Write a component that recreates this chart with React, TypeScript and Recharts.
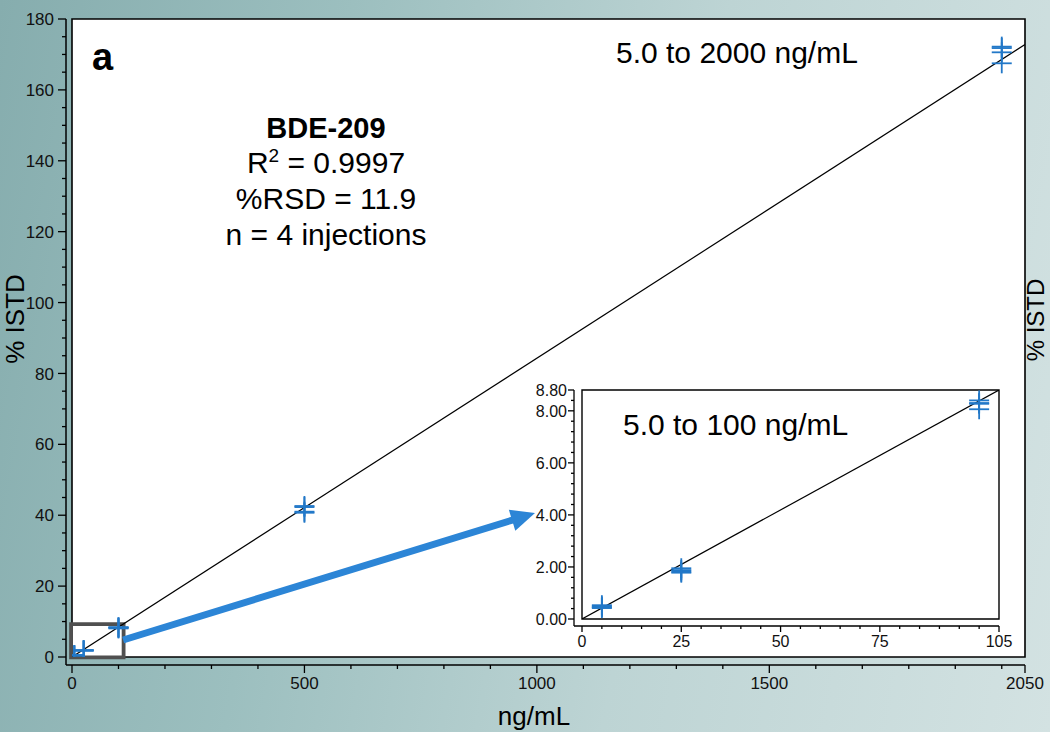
import React from 'react';
import { ScatterChart, Scatter, XAxis, YAxis, ReferenceArea, ReferenceLine } from 'recharts';

// ---------- data ----------
const CONCENTRATIONS = [5, 25, 100, 500, 2000]; // ng/mL
const INJECTION_1 = [0.53, 1.95, 8.4, 42.6, 172.2];
const INJECTION_2 = [0.48, 1.88, 8.3, 42.3, 171.8];
const INJECTION_3 = [0.45, 1.82, 8.27, 41.0, 170.6];
const INJECTION_4 = [0.42, 1.78, 8.06, 40.7, 167.5];
const FIT_SLOPE = 0.0843;
const FIT_INTERCEPT = 0;

const MAIN_X_DOMAIN = [0, 2050];
const MAIN_Y_DOMAIN = [0, 180];
const MAIN_X_LABELS = [0, 500, 1000, 1500, 2050];
const MAIN_Y_LABELS = [0, 20, 40, 60, 80, 100, 120, 140, 160, 180];
const MAIN_X_TICKS = [0, 100, 200, 300, 400, 500, 600, 700, 800, 900, 1000, 1100, 1200, 1300, 1400, 1500, 1600, 1700, 1800, 1900, 2000, 2050];
const MAIN_Y_TICKS = [0, 5, 10, 15, 20, 25, 30, 35, 40, 45, 50, 55, 60, 65, 70, 75, 80, 85, 90, 95, 100, 105, 110, 115, 120, 125, 130, 135, 140, 145, 150, 155, 160, 165, 170, 175, 180];

const INSET_MAX_CONC = 100;
const INSET_X_DOMAIN = [0, 105];
const INSET_Y_DOMAIN = [0, 8.8];
const INSET_X_LABELS = [0, 25, 50, 75, 105];
const INSET_Y_LABELS = [0, 2, 4, 6, 8, 8.8];
const INSET_X_TICKS = [0, 5, 10, 15, 20, 25, 30, 35, 40, 45, 50, 55, 60, 65, 70, 75, 80, 85, 90, 95, 100, 105];
const INSET_Y_TICKS = [0, 0.4, 0.8, 1.2, 1.6, 2, 2.4, 2.8, 3.2, 3.6, 4, 4.4, 4.8, 5.2, 5.6, 6, 6.4, 6.8, 7.2, 7.6, 8, 8.4, 8.8];

// zoom box and arrow (data coordinates of the main chart)
const ZOOM_BOX = { x1: -2, x2: 111, y1: -0.1, y2: 9.3 };
const ARROW = [{ x: 110, y: 4.8 }, { x: 996, y: 40.6 }];

const TITLE_MAIN = '5.0 to 2000 ng/mL';
const TITLE_INSET = '5.0 to 100 ng/mL';

// ---------- derived ----------
const INJECTIONS = [INJECTION_1, INJECTION_2, INJECTION_3, INJECTION_4];
const mainPoints = CONCENTRATIONS.flatMap((c, i) => INJECTIONS.map((inj) => ({ x: c, y: inj[i] })));
const insetPoints = mainPoints.filter((p) => p.x <= INSET_MAX_CONC);
const fitMain = [MAIN_X_DOMAIN[0], MAIN_X_DOMAIN[1]].map((x) => ({ x, y: FIT_INTERCEPT + FIT_SLOPE * x }));
const fitInset = [INSET_X_DOMAIN[0], INSET_X_DOMAIN[1]].map((x) => ({ x, y: Math.min(INSET_Y_DOMAIN[1], FIT_INTERCEPT + FIT_SLOPE * x) }));

const FONT = "'Liberation Sans', Arial, sans-serif";
const BLUE = '#2278c8';
const ARROW_BLUE = '#2c85d6';
const TEXT = '#111';

const isIn = (v: number, arr: number[]) => arr.some((a) => Math.abs(a - v) < 1e-6);

const makeCross = (half: number, w: number) => (props: any) => {
  const { cx, cy } = props;
  if (cx == null || cy == null) return <g />;
  return (
    <g>
      <line x1={cx - half} x2={cx + half} y1={cy} y2={cy} stroke={BLUE} strokeWidth={w} />
      <line x1={cx} x2={cx} y1={cy - half} y2={cy + half} stroke={BLUE} strokeWidth={w} />
    </g>
  );
};

const makeYTick = (labels: number[], fmt: (v: number) => string, major: number, minor: number, gap: number, fs: number) => (props: any) => {
  const { x, y, payload } = props;
  const v = payload.value;
  const isMajor = isIn(v, labels);
  return (
    <g>
      <line x1={x} x2={x - (isMajor ? major : minor)} y1={y} y2={y} stroke="#000" strokeWidth={1.3} />
      {isMajor && (
        <text x={x - major - gap} y={y} dy="0.36em" textAnchor="end" fontFamily={FONT} fontSize={fs} fill={TEXT}>
          {fmt(v)}
        </text>
      )}
    </g>
  );
};

const makeXTick = (labels: number[], major: number, minor: number, gap: number, fs: number) => (props: any) => {
  const { x, y, payload } = props;
  const v = payload.value;
  const isMajor = isIn(v, labels);
  return (
    <g>
      <line x1={x} x2={x} y1={y} y2={y + (isMajor ? major : minor)} stroke="#000" strokeWidth={1.3} />
      {isMajor && (
        <text x={x} y={y + major + gap} dy="0.72em" textAnchor="middle" fontFamily={FONT} fontSize={fs} fill={TEXT}>
          {String(v)}
        </text>
      )}
    </g>
  );
};

const ArrowShape = (props: any) => {
  const { x1, y1, x2, y2 } = props;
  if ([x1, y1, x2, y2].some((v) => v == null || isNaN(v))) return <g />;
  const dx = x2 - x1;
  const dy = y2 - y1;
  const len = Math.sqrt(dx * dx + dy * dy);
  const ux = dx / len;
  const uy = dy / len;
  const headLen = 24;
  const headHalf = 11;
  const bx = x2 - ux * headLen;
  const by = y2 - uy * headLen;
  const px = -uy;
  const py = ux;
  return (
    <g>
      <line x1={x1} y1={y1} x2={bx + ux * 2} y2={by + uy * 2} stroke={ARROW_BLUE} strokeWidth={7} />
      <polygon
        points={`${x2},${y2} ${bx + px * headHalf},${by + py * headHalf} ${bx - px * headHalf},${by - py * headHalf}`}
        fill={ARROW_BLUE}
      />
    </g>
  );
};

const MainYTick = makeYTick(MAIN_Y_LABELS, (v) => String(v), 8, 4, 4, 17);
const MainXTick = makeXTick(MAIN_X_LABELS, 8, 4, 4, 17);
const InsetYTick = makeYTick(INSET_Y_LABELS, (v) => v.toFixed(2), 6, 3, 1, 16);
const InsetXTick = makeXTick(INSET_X_LABELS, 6, 3, 3, 16);

export default function App() {
  return (
    <div
      style={{
        position: 'absolute',
        left: 0,
        top: 0,
        width: 1050,
        height: 732,
        overflow: 'hidden',
        background: 'linear-gradient(100deg, #86adae 0%, #9cbfbf 30%, #bdd4d4 62%, #d3e2e2 100%)',
      }}
    >
      <div style={{ position: 'absolute', left: 0, top: 0 }}>
        <ScatterChart width={1050} height={732} margin={{ top: 19, right: 25, bottom: 37, left: 6 }}>
          <XAxis
            type="number"
            dataKey="x"
            domain={MAIN_X_DOMAIN}
            ticks={MAIN_X_TICKS}
            interval={0}
            padding={{ left: 6, right: 0 }}
            height={30}
            tickSize={0}
            tickMargin={0}
            tickLine={false}
            axisLine={{ stroke: '#000', strokeWidth: 1.5 }}
            tick={MainXTick}
            allowDataOverflow
          />
          <YAxis
            type="number"
            dataKey="y"
            domain={MAIN_Y_DOMAIN}
            ticks={MAIN_Y_TICKS}
            interval={0}
            padding={{ top: 0, bottom: 8 }}
            width={60}
            tickSize={0}
            tickMargin={0}
            tickLine={false}
            axisLine={{ stroke: '#000', strokeWidth: 1.5 }}
            tick={MainYTick}
            allowDataOverflow
          />
          <ReferenceArea
            x1={MAIN_X_DOMAIN[0]}
            x2={MAIN_X_DOMAIN[1]}
            y1={MAIN_Y_DOMAIN[0]}
            y2={MAIN_Y_DOMAIN[1]}
            fill="#ffffff"
            fillOpacity={1}
            stroke="#000"
            strokeWidth={1.6}
            ifOverflow="visible"
          />
          <Scatter
            data={fitMain}
            line={{ stroke: '#000', strokeWidth: 1.2 }}
            shape={() => <g />}
            isAnimationActive={false}
          />
          <ReferenceArea
            x1={ZOOM_BOX.x1}
            x2={ZOOM_BOX.x2}
            y1={ZOOM_BOX.y1}
            y2={ZOOM_BOX.y2}
            fill="none"
            fillOpacity={0}
            stroke="#505050"
            strokeWidth={3.8}
            ifOverflow="visible"
          />
          <Scatter data={mainPoints} shape={makeCross(10, 1.8)} isAnimationActive={false} />
          <ReferenceLine segment={ARROW} ifOverflow="visible" shape={ArrowShape} />
        </ScatterChart>
      </div>

      <svg width={1050} height={732} style={{ position: 'absolute', left: 0, top: 0, pointerEvents: 'none' }}>
        <text x={92} y={70} fontFamily={FONT} fontWeight="bold" fontSize={38} fill="#000">a</text>
        <text x={616} y={63} fontFamily={FONT} fontSize={30} fill="#000">{TITLE_MAIN}</text>
        <g fontFamily={FONT} fill="#000" textAnchor="middle">
          <text x={326} y={138} fontSize={29} fontWeight="bold">BDE-209</text>
          <text x={326} y={173} fontSize={30}>
            R<tspan dy={-11} fontSize={19}>2</tspan>
            <tspan dy={11}> = 0.9997</tspan>
          </text>
          <text x={326} y={209} fontSize={30}>%RSD = 11.9</text>
          <text x={326} y={245} fontSize={30}>n = 4 injections</text>
        </g>
        <text x={24} y={319} transform="rotate(-90 24 319)" textAnchor="middle" fontFamily={FONT} fontSize={26} fill="#000">% ISTD</text>
        <text x={1044} y={320} transform="rotate(-90 1044 320)" textAnchor="middle" fontFamily={FONT} fontSize={24} fill="#000">% ISTD</text>
        <text x={534} y={725} textAnchor="middle" fontFamily={FONT} fontSize={26} fill="#000">ng/mL</text>
      </svg>

      <div style={{ position: 'absolute', left: 520, top: 370 }}>
        <ScatterChart width={520} height={300} margin={{ top: 20, right: 41, bottom: 19, left: 4 }}>
          <XAxis
            type="number"
            dataKey="x"
            domain={INSET_X_DOMAIN}
            ticks={INSET_X_TICKS}
            interval={0}
            padding={{ left: 8, right: 0 }}
            height={25}
            tickSize={0}
            tickMargin={0}
            tickLine={false}
            axisLine={{ stroke: '#000', strokeWidth: 1.3 }}
            tick={InsetXTick}
            allowDataOverflow
          />
          <YAxis
            type="number"
            dataKey="y"
            domain={INSET_Y_DOMAIN}
            ticks={INSET_Y_TICKS}
            interval={0}
            padding={{ top: 0, bottom: 7 }}
            width={50}
            tickSize={0}
            tickMargin={0}
            tickLine={false}
            axisLine={{ stroke: '#000', strokeWidth: 1.3 }}
            tick={InsetYTick}
            allowDataOverflow
          />
          <ReferenceArea
            x1={INSET_X_DOMAIN[0]}
            x2={INSET_X_DOMAIN[1]}
            y1={INSET_Y_DOMAIN[0]}
            y2={INSET_Y_DOMAIN[1]}
            fill="#ffffff"
            fillOpacity={1}
            stroke="#000"
            strokeWidth={1.4}
            ifOverflow="visible"
          />
          <Scatter
            data={fitInset}
            line={{ stroke: '#000', strokeWidth: 1.2 }}
            shape={() => <g />}
            isAnimationActive={false}
          />
          <Scatter data={insetPoints} shape={makeCross(10, 1.8)} isAnimationActive={false} />
        </ScatterChart>
        <svg width={520} height={300} style={{ position: 'absolute', left: 0, top: 0, pointerEvents: 'none' }}>
          <text x={103} y={65} fontFamily={FONT} fontSize={30} fill="#000">{TITLE_INSET}</text>
        </svg>
      </div>
    </div>
  );
}
